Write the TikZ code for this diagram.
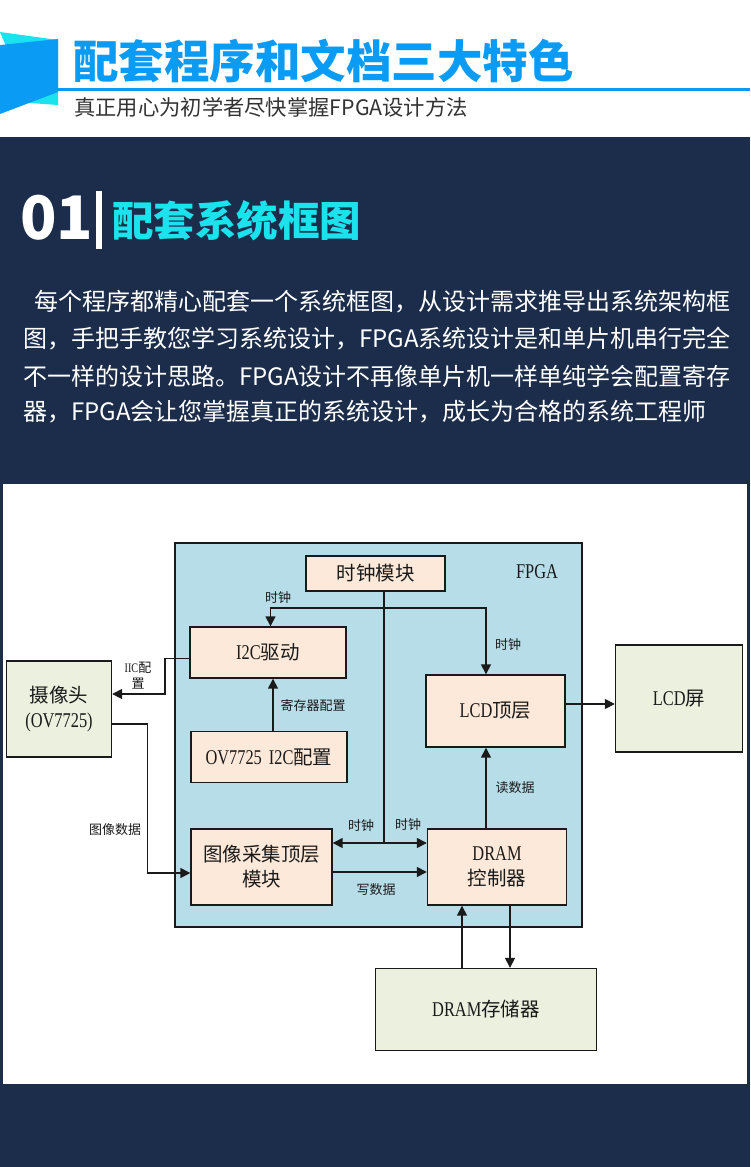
\documentclass[tikz,border=0pt]{standalone}
\usepackage{fontspec}
\setmainfont{Liberation Serif}[FakeStretch=0.78]
\newfontfamily\cjk{Noto Sans CJK SC}
\newfontfamily\lat{Liberation Serif}[FakeStretch=0.78]
\newcommand\Z[1]{{\cjk\fontsize{19.5}{25}\selectfont #1}}
\usetikzlibrary{arrows.meta}
\definecolor{navy}{HTML}{1B2D4A}
\definecolor{tblue}{HTML}{0A9CF5}
\definecolor{tcyan}{HTML}{1BE3EE}
\definecolor{fpgab}{HTML}{B7DDE8}
\definecolor{peach}{HTML}{FDE9D9}
\definecolor{sage}{HTML}{EBF1DE}
\definecolor{ink}{HTML}{1A1A1A}
\definecolor{subgray}{HTML}{333333}
\begin{document}
\begin{tikzpicture}[x=1pt,y=-1pt,
  box/.style={draw=ink, line width=1.4pt, inner sep=0pt, align=center, text=ink,
    font=\fontsize{21}{25}\selectfont},
  pbox/.style={box, fill=peach},
  gbox/.style={box, fill=sage},
  lbl/.style={font=\cjk\fontsize{13}{16}\selectfont, inner sep=0pt, text=ink, align=center},
  con/.style={draw=ink, line width=1.5pt},
  arr/.style={-{Triangle[length=10pt,width=10pt]}}
]
\useasboundingbox (0,0) rectangle (750,1167);
\fill[white] (0,0) rectangle (750,137);
\fill[navy] (0,137) rectangle (750,1167);
% header decoration
\fill[tcyan] (0,32) -- (58,40) -- (58,105) -- (30,103) -- cycle;
\fill[tblue] (0,45) -- (58,39) -- (58,92) -- (0,114) -- cycle;
\fill[tblue] (58,87.5) rectangle (750,91);
\node[anchor=west, text=tblue, inner sep=0pt, font=\cjk\bfseries\fontsize{45.5}{50}\selectfont] (title) at (73,61) {配套程序和文档三大特色};
\node[anchor=west, text=subgray, inner sep=0pt, font=\cjk\fontsize{21.3}{24}\selectfont] (sub) at (74,107) {真正用心为初学者尽快掌握FPGA设计方法};
% section heading
\node[anchor=west, text=white, inner sep=0pt, font=\cjk\bfseries\fontsize{60}{60}\selectfont] (num) at (20,218) {01};
\fill[white] (96,191) rectangle (102,249);
\node[anchor=west, text=tcyan, inner sep=0pt, font=\cjk\bfseries\fontsize{41.5}{45}\selectfont] (sec) at (112,221) {配套系统框图};
% paragraph
\begin{scope}[every node/.style={anchor=west, text=white, inner sep=0pt, font=\cjk\fontsize{24}{30}\selectfont}]
\node (p1) at (34,302) {每个程序都精心配套一个系统框图，从设计需求推导出系统架构框};
\node (p2) at (23,339) {图，手把手教您学习系统设计，FPGA系统设计是和单片机串行完全};
\node (p3) at (23,376) {不一样的设计思路。FPGA设计不再像单片机一样单纯学会配置寄存};
\node (p4) at (23,412) {器，FPGA会让您掌握真正的系统设计，成长为合格的系统工程师};
\end{scope}
% white panel
\fill[white] (3,484) rectangle (747,1084);
% diagram
\node[box, fill=fpgab, minimum width=407, minimum height=384] (fpga) at (378.5,735) {};
\node[text=ink, inner sep=0pt, font=\fontsize{21}{23}\selectfont] (fpgalbl) at (537,572) {FPGA};
\node[pbox, minimum width=139, minimum height=35] (clk) at (375.5,573.5) {\Z{时钟模块}};
\node[pbox, minimum width=156, minimum height=51] (i2c) at (268,652.5) {I2C\Z{驱动}};
\node[pbox, minimum width=156, minimum height=51] (cfg) at (269,757) {OV7725\hspace{7pt}I2C\Z{配置}};
\node[gbox, minimum width=105, minimum height=96] (cam) at (59,709) {\Z{摄像头}\\(OV7725)};
\node[pbox, minimum width=139, minimum height=72] (lcd) at (495.5,711) {LCD\Z{顶层}};
\node[gbox, minimum width=127, minimum height=107] (scr) at (679,698.5) {LCD\Z{屏}};
\node[pbox, minimum width=141, minimum height=76] (cap) at (261.5,867) {\Z{图像采集顶层}\\\Z{模块}};
\node[pbox, minimum width=139, minimum height=76] (ctrl) at (497,867) {DRAM\\\Z{控制器}};
\node[gbox, minimum width=221, minimum height=82] (dram) at (486,1009.5) {DRAM\Z{存储器}};
% connectors
\coordinate (j1) at (384,608);
\coordinate (j2) at (384,843);
\coordinate (iicx) at (165,694);
\coordinate (imx) at (147.5,724);
\draw[con] (clk.south -| j1) -- (j2);
\draw[con,arr] (j1) -| ([xshift=2.5pt]i2c.north);
\draw[con,arr] (j1) -| ([xshift=-9.5pt]lcd.north);
\draw[con,arr] (j2) -- (j2 -| cap.east);
\draw[con,arr] (j2) -- (j2 -| ctrl.west);
\draw[con,arr] ([yshift=-5pt]cap.east) -- ([yshift=-5pt]cap.east -| ctrl.west);
\draw[con,arr] ([xshift=-11pt]ctrl.north) -- ([xshift=-11pt]ctrl.north |- lcd.south);
\draw[con,arr] ([xshift=4pt]cfg.north) -- ([xshift=4pt]cfg.north |- i2c.south);
\draw[con,arr] ([yshift=-6pt]i2c.west) -| (iicx) -- (iicx -| cam.east);
\draw[con,arr] (imx -| cam.east) -- (imx) |- ([yshift=-6pt]cap.west);
\draw[con,arr] ([yshift=7pt]lcd.east) -- ([yshift=7pt]lcd.east -| scr.west);
\draw[con,arr] ([xshift=-24pt]dram.north) -- ([xshift=-24pt]dram.north |- ctrl.south);
\draw[con,arr] ([xshift=24pt]dram.north |- ctrl.south) -- ([xshift=24pt]dram.north);
% labels
\node[lbl] (lclk1) at (278,598) {时钟};
\node[lbl] (lclk2) at (508,645) {时钟};
\node[lbl] (lclk3) at (361,826) {时钟};
\node[lbl] (lclk4) at (408,825) {时钟};
\node[lbl] (lwd) at (376,890) {写数据};
\node[lbl] (lrd) at (515,788) {读数据};
\node[lbl] (lreg) at (313,706) {寄存器配置};
\node[lbl] (liic) at (138,676) {{\lat IIC}配\\置};
\node[lbl] (limg) at (115,830) {图像数据};
\end{tikzpicture}
\end{document}
